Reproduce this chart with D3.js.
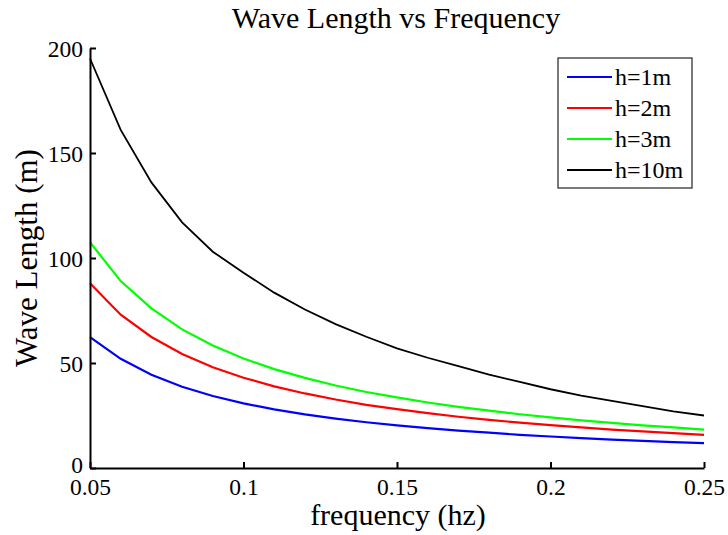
<!doctype html>
<html>
  <head>
    <script src="https://cdn.jsdelivr.net/npm/d3@7"></script>
    <style>
      body { margin: 0; background: #fff; }
      text { font-family: "Liberation Serif", "Times New Roman", serif; fill: #000; }
    </style>
  </head>
  <body>
    <svg id="chart" width="728" height="535"></svg>

    <script>
      // frequency samples (hz)
      var freq = [0.05, 0.06, 0.07, 0.08, 0.09, 0.10, 0.11, 0.12, 0.13, 0.14, 0.15,
                  0.16, 0.17, 0.18, 0.19, 0.20, 0.21, 0.22, 0.23, 0.24, 0.25];

      // wave length (m), one array per depth
      var h1  = [62.3, 52, 44.4, 38.7, 34.3, 30.8, 27.9, 25.5, 23.5, 21.8, 20.3,
                 19.0, 17.8, 16.8, 15.8, 15.0, 14.2, 13.5, 12.9, 12.3, 11.8];
      var h2  = [88, 73, 62.4, 54.3, 48, 43, 38.9, 35.5, 32.6, 30.1, 28,
                 26.1, 24.4, 22.9, 21.6, 20.4, 19.3, 18.3, 17.4, 16.6, 15.8];
      var h3  = [107.5, 89, 76, 66, 58.3, 52.1, 47.1, 42.9, 39.3, 36.2, 33.6,
                 31.2, 29.1, 27.3, 25.6, 24.1, 22.7, 21.5, 20.3, 19.3, 18.3];
      var h10 = [195, 161, 136, 117, 103, 93, 83.5, 75.5, 68.5, 62.5, 57,
                 52.5, 48.5, 44.5, 41, 37.5, 34.5, 32, 29.5, 27, 25];

      var seriesNames = ["h=1m", "h=2m", "h=3m", "h=10m"];
      var seriesColors = ["#0000ff", "#ff0000", "#00ff00", "#000000"];
      var seriesValues = [h1, h2, h3, h10];

      var xTicks = [0.05, 0.1, 0.15, 0.2, 0.25];
      var yTicks = [0, 50, 100, 150, 200];

      var svg = d3.select("#chart");

      var x = d3.scaleLinear().domain([0.05, 0.25]).range([90, 704]);
      var y = d3.scaleLinear().domain([0, 200]).range([468, 48]);

      // curves
      var line = d3.line()
        .x(function(d) { return x(d[0]); })
        .y(function(d) { return y(d[1]); });

      var curves = svg.append("g");
      seriesValues.forEach(function(vals, i) {
        curves.append("path")
          .attr("fill", "none")
          .attr("stroke", seriesColors[i])
          .attr("stroke-width", i == 3 ? 1.8 : 2.2)
          .attr("d", line(freq.map(function(f, j) { return [f, vals[j]]; })));
      });

      // axes, ticks pointing inward like matlab
      var xAxis = svg.append("g")
        .attr("transform", "translate(0,468)")
        .call(d3.axisBottom(x).tickValues(xTicks).tickSizeInner(-6).tickSizeOuter(0)
          .tickFormat(d3.format("")));
      var yAxis = svg.append("g")
        .attr("transform", "translate(90,0)")
        .call(d3.axisLeft(y).tickValues(yTicks).tickSizeInner(-6).tickSizeOuter(0));

      [xAxis, yAxis].forEach(function(ax) {
        ax.select(".domain").attr("stroke", "#000").attr("stroke-width", 2);
        ax.selectAll(".tick line").attr("stroke", "#000").attr("stroke-width", 2);
        ax.selectAll("text")
          .style("font-family", '"Liberation Serif", serif')
          .style("font-size", "23.5px")
          .attr("fill", "#000");
      });
      xAxis.selectAll("text").attr("dy", null).attr("y", 27);
      yAxis.selectAll("text").attr("x", -7).attr("dy", "0.34em");
      // the 0 sits just above the 0.05 label
      yAxis.selectAll(".tick").filter(function(d) { return d === 0; })
        .select("text").attr("dy", "0.2em");

      // titles
      svg.append("text")
        .attr("x", 396).attr("y", 28)
        .attr("text-anchor", "middle")
        .style("font-size", "30px")
        .text("Wave Length vs Frequency");

      svg.append("text")
        .attr("x", 398).attr("y", 525)
        .attr("text-anchor", "middle")
        .style("font-size", "30px")
        .text("frequency (hz)");

      svg.append("text")
        .attr("transform", "translate(37,258) rotate(-90)")
        .attr("text-anchor", "middle")
        .style("font-size", "31px")
        .text("Wave Length (m)");

      // legend
      var legend = svg.append("g");
      legend.append("rect")
        .attr("x", 558).attr("y", 58)
        .attr("width", 134).attr("height", 130)
        .attr("fill", "#fff").attr("stroke", "#222").attr("stroke-width", 1.2);

      var rowY = d3.scalePoint().domain(seriesNames).range([77, 170]);
      seriesNames.forEach(function(name, i) {
        legend.append("line")
          .attr("x1", 567).attr("x2", 612)
          .attr("y1", rowY(name)).attr("y2", rowY(name))
          .attr("stroke", seriesColors[i]).attr("stroke-width", 2);
        legend.append("text")
          .attr("x", 615).attr("y", rowY(name))
          .attr("dy", "0.34em")
          .style("font-size", "24px")
          .text(name);
      });
    </script>
  </body>
</html>
